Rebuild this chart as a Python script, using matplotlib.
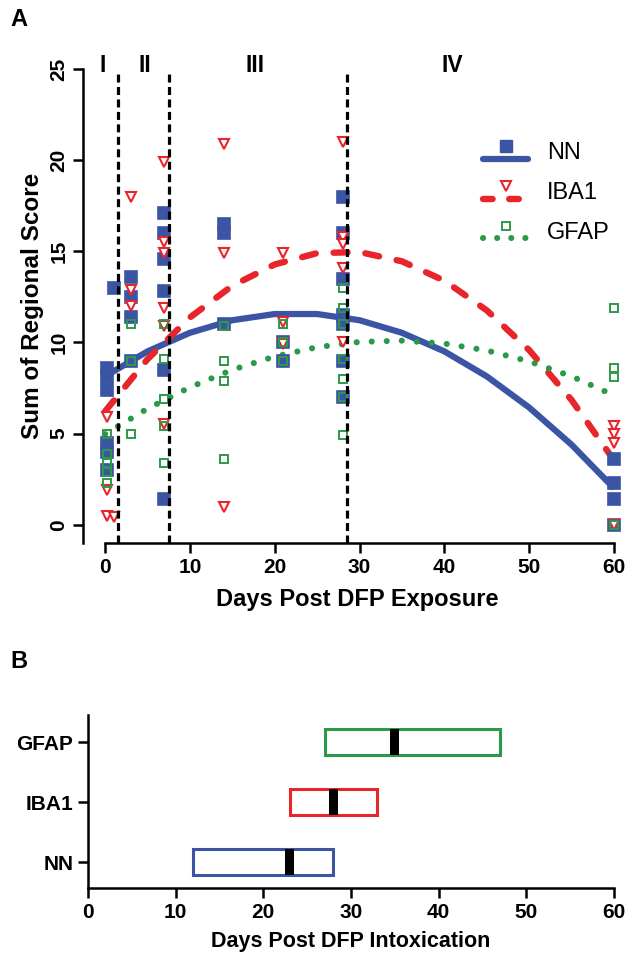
import matplotlib
matplotlib.use('Agg')
import matplotlib.pyplot as plt
from matplotlib.lines import Line2D

plt.rcParams['font.family'] = ['Liberation Sans', 'DejaVu Sans']

# ---------------- data ----------------
nn_x = [0.25]*6 + [1] + [3]*4 + [7]*6 + [14]*3 + [21]*2 + [28]*7 + [60]*4
nn_y = [8.6, 8.1, 7.4, 4.5, 4.0, 3.0,
        13.0,
        13.6, 12.5, 11.4, 9.0,
        17.1, 16.0, 14.6, 12.8, 8.5, 1.4,
        16.5, 16.0, 11.0,
        10.0, 9.0,
        18.0, 16.0, 13.5, 11.5, 11.0, 9.0, 7.0,
        3.6, 2.3, 1.4, 0.0]

iba1_x = [0.25]*3 + [1] + [3]*3 + [7]*6 + [14]*3 + [21]*3 + [28]*5 + [60]*4
iba1_y = [5.9, 1.9, 0.5,
          0.4,
          18.0, 12.9, 12.0,
          19.9, 15.5, 14.9, 11.9, 10.9, 5.5,
          20.9, 14.9, 1.0,
          14.9, 11.1, 9.9,
          21.0, 15.8, 15.4, 14.1, 10.0,
          5.4, 5.0, 4.5, 0.0]

gfap_x = [0.25]*5 + [3]*3 + [7]*5 + [14]*4 + [21]*3 + [28]*7 + [60]*4
gfap_y = [5.0, 3.9, 3.4, 2.9, 2.3,
          11.0, 9.0, 5.0,
          11.0, 9.1, 6.9, 5.4, 3.4,
          10.9, 9.0, 7.9, 3.6,
          11.0, 10.0, 9.0,
          13.0, 11.9, 11.0, 9.1, 8.0, 7.0, 4.9,
          11.9, 8.6, 8.1, 0.0]

fit_days = [0, 5, 10, 15, 20, 25, 30, 35, 40, 45, 50, 55, 60]
nn_fit = [8.14, 9.51, 10.53, 11.22, 11.56, 11.56, 11.22, 10.53, 9.51, 8.14, 6.43, 4.39, 2.00]
iba1_fit = [6.22, 9.08, 11.37, 13.11, 14.28, 14.90, 14.96, 14.45, 13.39, 11.76, 9.58, 6.84, 3.53]
gfap_fit = [4.97, 6.37, 7.54, 8.50, 9.23, 9.74, 10.03, 10.10, 9.94, 9.56, 8.96, 8.14, 7.10]

phase_bounds = [1.5, 7.5, 28.5]
phase_labels = ['I', 'II', 'III', 'IV']
phase_label_x = [-0.3, 4.7, 17.7, 40.9]

markers = ['NN', 'IBA1', 'GFAP']
onset = [12, 23, 27]
median_day = [23, 28, 35]
end = [28, 33, 47]

BLUE = '#3b55a4'
RED = '#e8252b'
GREEN = '#2b9a48'
colors = [BLUE, RED, GREEN]

W, H = 633, 973
fig = plt.figure(figsize=(W/100, H/100), dpi=100)

def box(l, t, r, b):
    return [l/W, 1 - b/H, (r-l)/W, (b-t)/H]

# ---------------- panel A ----------------
axA = fig.add_axes(box(83, 69, 631, 543))
axA.set_xlim(-2.6, 62)
axA.set_ylim(-1, 25)

axA.plot(fit_days, nn_fit, color=BLUE, lw=4.5, solid_capstyle='butt', zorder=2)
axA.plot(fit_days, iba1_fit, color=RED, lw=4.6, linestyle=(0, (2.2, 2.8)),
         dash_capstyle='round', zorder=2)
axA.plot(fit_days, gfap_fit, color=GREEN, lw=4.4, linestyle=(0, (0.01, 2.45)),
         dash_capstyle='round', zorder=2)

axA.plot(nn_x, nn_y, ls='none', marker='s', ms=8.5, color=BLUE, mec=BLUE,
         mew=1.2, zorder=3)
axA.plot(iba1_x, iba1_y, ls='none', marker='v', ms=7.5, mfc='white', mec=RED,
         mew=1.5, zorder=4)
axA.plot(gfap_x, gfap_y, ls='none', marker='s', ms=5.5, mfc='none', mec=GREEN,
         mew=1.4, zorder=5)

for xb in phase_bounds:
    axA.axvline(xb, ymin=0, ymax=(24.8+1)/26, color='black', lw=2.3,
                linestyle=(0, (2.5, 1.4)), zorder=6)
for lab, lx in zip(phase_labels, phase_label_x):
    axA.text(lx, 25.2, lab, ha='center', va='center', fontsize=16.5,
             fontweight='bold')

axA.spines['top'].set_visible(False)
axA.spines['right'].set_visible(False)
axA.spines['left'].set_linewidth(1.8)
axA.spines['bottom'].set_linewidth(1.8)
axA.spines['left'].set_bounds(-1, 25)
axA.spines['bottom'].set_bounds(0, 60)
axA.set_yticks([0, 5, 10, 15, 20, 25])
axA.set_xticks([0, 10, 20, 30, 40, 50, 60])
axA.tick_params(width=1.8, length=7, labelsize=15)
for lab in axA.get_yticklabels():
    lab.set_rotation(90)
    lab.set_va('center')
    lab.set_fontweight('bold')
for lab in axA.get_xticklabels():
    lab.set_fontweight('bold')
axA.set_ylabel('Sum of Regional Score', fontsize=17.5, fontweight='bold', labelpad=4)
axA.set_xlabel('Days Post DFP Exposure', fontsize=17, fontweight='bold', labelpad=8)


class MarkerAbove:
    def __init__(self, line_kw, marker_kw):
        self.line_kw = line_kw
        self.marker_kw = marker_kw

    def legend_artist(self, legend, orig_handle, fontsize, handlebox):
        x0, y0 = handlebox.xdescent, handlebox.ydescent
        w, h = handlebox.width, handlebox.height
        ln = Line2D([x0, x0 + w], [y0 + h*0.02]*2, **self.line_kw)
        mk = Line2D([x0 + w/2], [y0 + h*0.78], **self.marker_kw)
        handlebox.add_artist(ln)
        handlebox.add_artist(mk)
        return ln

h_nn = Line2D([], [], color=BLUE)
h_iba = Line2D([], [], color=RED)
h_gf = Line2D([], [], color=GREEN)
hmap = {
    h_nn: MarkerAbove(dict(color=BLUE, lw=4.5, solid_capstyle='round'),
                      dict(marker='s', ms=8.5, color=BLUE, ls='none')),
    h_iba: MarkerAbove(dict(color=RED, lw=4.6, linestyle=(0, (1.5, 2.6)),
                            dash_capstyle='round'),
                       dict(marker='v', ms=7.5, mfc='white', mec=RED, mew=1.5, ls='none')),
    h_gf: MarkerAbove(dict(color=GREEN, lw=4.4, linestyle=(0, (0.01, 2.3)),
                           dash_capstyle='round'),
                      dict(marker='s', ms=5.5, mfc='none', mec=GREEN, mew=1.4, ls='none')),
}
axA.legend([h_nn, h_iba, h_gf], markers, handler_map=hmap, loc='upper right',
           bbox_to_anchor=(1.0, 0.89), frameon=False, fontsize=17,
           handlelength=1.9, handletextpad=0.8, labelspacing=0.75)

# ---------------- panel B ----------------
axB = fig.add_axes(box(88, 715, 614, 888))
ypos = [0, 1, 2]
axB.barh(ypos, [e - o for o, e in zip(onset, end)], left=onset, height=0.44,
         fill=False, edgecolor=colors, linewidth=2.2, zorder=2)
axB.barh(ypos, 1.0, left=[m - 0.5 for m in median_day], height=0.44,
         color='black', zorder=3)
axB.set_xlim(0, 60)
axB.set_ylim(-0.43, 2.45)
axB.set_yticks(ypos)
axB.set_yticklabels(markers, fontweight='bold')
axB.set_xticks([0, 10, 20, 30, 40, 50, 60])
for lab in axB.get_xticklabels():
    lab.set_fontweight('bold')
axB.tick_params(width=1.8, length=7, labelsize=15)
axB.spines['top'].set_visible(False)
axB.spines['right'].set_visible(False)
axB.spines['left'].set_linewidth(1.8)
axB.spines['bottom'].set_linewidth(1.8)
axB.set_xlabel('Days Post DFP Intoxication', fontsize=15.5, fontweight='bold', labelpad=7)

fig.text(10/W, 1 - 20/H, 'A', fontsize=17, fontweight='bold', va='center')
fig.text(10/W, 1 - 662/H, 'B', fontsize=17, fontweight='bold', va='center')

fig.savefig('out.png', dpi=100)
